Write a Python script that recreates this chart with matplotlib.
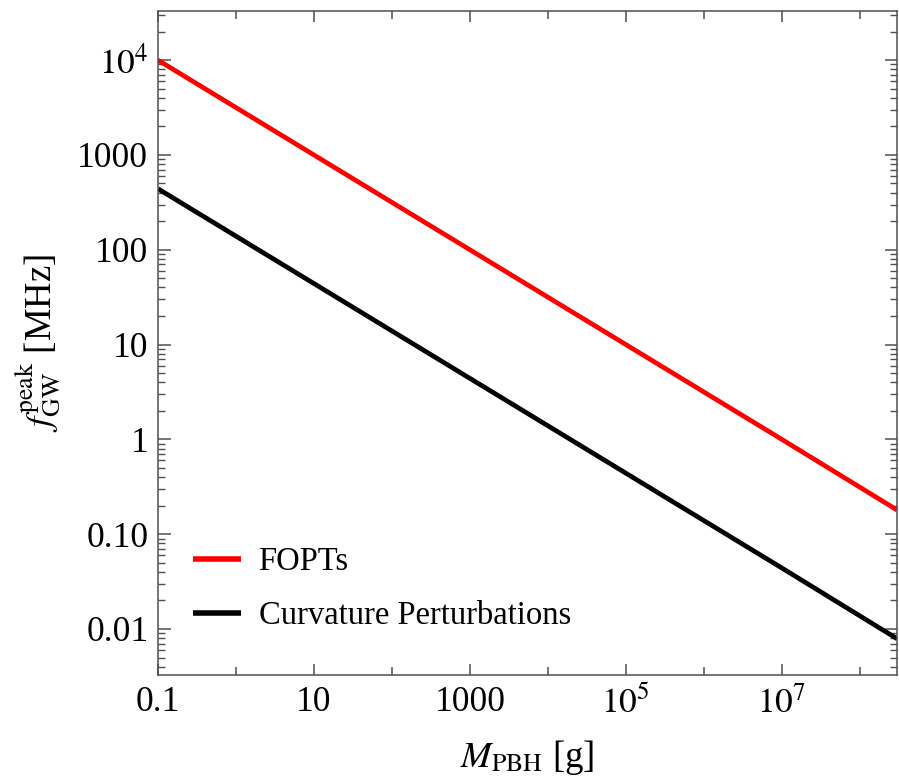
import matplotlib
matplotlib.use("Agg")
import matplotlib.pyplot as plt
from matplotlib.ticker import FixedLocator, FixedFormatter, NullFormatter

plt.rcParams['font.family'] = ['Liberation Serif', 'DejaVu Serif']
plt.rcParams['mathtext.fontset'] = 'stix'

# PBH mass [g] and peak GW frequency [MHz] for the two production channels
masses = [0.1, 10, 1e3, 1e5, 1e7, 3e8]
f_fopt = [1e4, 1e3, 1e2, 10, 1, 0.18]
f_curv = [440, 44, 4.4, 0.44, 0.044, 0.0079]

series_labels = ["FOPTs", "Curvature Perturbations"]
series_colors = ["#ff0000", "#000000"]

x_major = [0.1, 10, 1e3, 1e5, 1e7]
x_major_labels = ["0.1", "10", "1000", r"$10^5$", r"$10^7$"]
x_minor = [1, 100, 1e4, 1e6, 1e8]

y_major = [1e4, 1e3, 100, 10, 1, 0.1, 0.01]
y_major_labels = [r"$10^4$", "1000", "100", "10", "1", "0.10", "0.01"]

fig = plt.figure(figsize=(8.99, 7.78), dpi=100)
ax = fig.add_axes([158 / 899, 1 - 675 / 778, (897 - 158) / 899, (675 - 11) / 778])

for ys, lab, col in zip([f_fopt, f_curv], series_labels, series_colors):
    ax.plot(masses, ys, color=col, lw=3.4, label=lab, solid_capstyle='butt')

ax.set_xscale('log')
ax.set_yscale('log')
ax.set_xlim(0.1, 3e8)
ax.set_ylim(3.27e-3, 3.3e4)

axis_gray = '#505050'
for s in ax.spines.values():
    s.set_color(axis_gray)
    s.set_linewidth(1.1)

ax.xaxis.set_major_locator(FixedLocator(x_major))
ax.xaxis.set_major_formatter(FixedFormatter(x_major_labels))
ax.xaxis.set_minor_locator(FixedLocator(x_minor))
ax.xaxis.set_minor_formatter(NullFormatter())

ax.yaxis.set_major_locator(FixedLocator(y_major))
ax.yaxis.set_major_formatter(FixedFormatter(y_major_labels))

ax.tick_params(which='both', direction='in', top=True, right=True,
               color=axis_gray, labelsize=25.5, labelcolor='black')
ax.tick_params(axis='x', which='major', length=8, width=1.1, pad=8)
ax.tick_params(axis='x', which='minor', length=6, width=1.1)
ax.tick_params(axis='y', which='major', length=9, width=1.1, pad=7)
ax.tick_params(axis='y', which='minor', length=5, width=1.0)

ax.set_xlabel(r"$M_{\rm PBH}$ [g]", fontsize=26.5, labelpad=12)
ax.set_ylabel(r"$f_{\rm GW}^{\rm peak}$ [MHz]", fontsize=26.5, labelpad=10)

leg = ax.legend(loc='lower left', bbox_to_anchor=(0.03, 0.046), frameon=False,
                fontsize=23.5, handlelength=1.45, handletextpad=0.55,
                labelspacing=0.72, borderaxespad=0)
for h in leg.get_lines():
    h.set_linewidth(4)

fig.savefig("out.png", dpi=100)
